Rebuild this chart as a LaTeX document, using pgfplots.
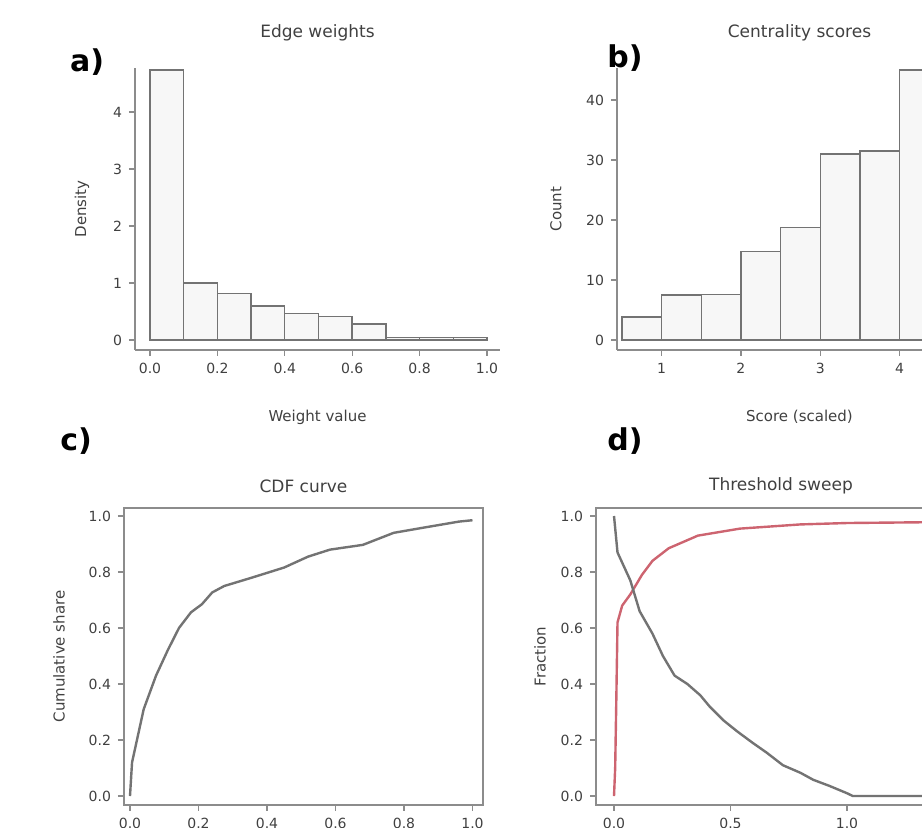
\documentclass[border=0pt]{standalone}
\usepackage{pgfplots}
\pgfplotsset{compat=1.18}
\usepackage{fontspec}
\setmainfont{DejaVu Sans}
\definecolor{linegray}{gray}{0.45}
\definecolor{axgray}{gray}{0.55}
\definecolor{myred}{RGB}{205,100,112}
\begin{document}
\begin{tikzpicture}[x=1pt,y=1pt]
\path[use as bounding box, clip] (0,0) rectangle (461,414);
\pgfplotsset{
 every axis/.append style={
  scale only axis,
  /pgf/number format/assume math mode=true,
  tick label style={font=\fontsize{7}{8}\selectfont, text=black!75},
  label style={font=\fontsize{7.5}{9}\selectfont, text=black!75},
  title style={font=\fontsize{8.5}{10}\selectfont, text=black!75},
  tick align=outside, major tick length=3pt,
  tick style={axgray, line width=0.6pt},
  axis line style={axgray, line width=0.7pt},
 },
}
% ---------- a ----------
\begin{axis}[at={(67.5pt,239pt)}, anchor=south west, width=182.5pt, height=141pt,
 axis lines*=left, xmin=-0.0445, xmax=1.0386, ymin=-0.175, ymax=4.772,
 xtick={0,0.2,0.4,0.6,0.8,1.0}, ytick={0,1,2,3,4},
 xticklabel style={/pgf/number format/fixed, /pgf/number format/fixed zerofill, /pgf/number format/precision=1},
 title={Edge weights}, xlabel={Weight value}, ylabel={Density},
 title style={at={(0.5,1)}, anchor=center, yshift=11.5pt},
 xlabel style={at={(0.5,0)}, anchor=center, yshift=-33.5pt},
 ylabel style={at={(0,0.5)}, anchor=center, yshift=26.5pt},
]
\addplot[ybar interval, fill=gray!6, draw=linegray, line width=0.7pt] coordinates {
(0,4.74) (0.1,1.0) (0.2,0.82) (0.3,0.6) (0.4,0.47) (0.5,0.41) (0.6,0.28) (0.7,0.04) (0.8,0.04) (0.9,0.04) (1.0,0.04)};
\end{axis}
% ---------- b ----------
\begin{axis}[at={(308.5pt,239pt)}, anchor=south west, width=182.5pt, height=141pt,
 axis lines*=left, xmin=0.437, xmax=5.04, ymin=-1.667, ymax=45.33,
 xtick={1,2,3,4,5}, ytick={0,10,20,30,40},
 title={Centrality scores}, xlabel={Score (scaled)}, ylabel={Count},
 title style={at={(0.5,1)}, anchor=center, yshift=11.5pt},
 xlabel style={at={(0.5,0)}, anchor=center, yshift=-33.5pt},
 ylabel style={at={(0,0.5)}, anchor=center, yshift=30.5pt},
]
\addplot[ybar interval, fill=gray!6, draw=linegray, line width=0.7pt] coordinates {
(0.5,3.8) (1.0,7.5) (1.5,7.6) (2.0,14.7) (2.5,18.7) (3.0,31) (3.5,31.5) (4.0,45) (4.5,38) (5.0,38)};
\end{axis}
% ---------- c ----------
\begin{axis}[at={(62pt,11.5pt)}, anchor=south west, width=179.5pt, height=148.5pt,
 xmin=-0.0175, xmax=1.0307, ymin=-0.032, ymax=1.0287, tick pos=left,
 xtick={0,0.2,0.4,0.6,0.8,1.0}, ytick={0,0.2,0.4,0.6,0.8,1.0},
 ticklabel style={/pgf/number format/fixed, /pgf/number format/fixed zerofill, /pgf/number format/precision=1},
 title={CDF curve}, xlabel={Fraction of nodes}, ylabel={Cumulative share},
 title style={at={(0.5,1)}, anchor=center, yshift=5pt},
 xlabel style={at={(0.5,0)}, anchor=center, yshift=-30pt},
 ylabel style={at={(0,0.5)}, anchor=center, yshift=32.5pt},
]
\addplot[linegray, line width=1.2pt, line join=round] coordinates {
(0,0) (0.006,0.12) (0.04,0.31) (0.076,0.43) (0.11,0.52) (0.143,0.60) (0.178,0.656)
(0.21,0.685) (0.24,0.727) (0.275,0.75) (0.356,0.78) (0.45,0.816) (0.52,0.855)
(0.584,0.88) (0.68,0.897) (0.77,0.94) (0.85,0.957) (0.96,0.98) (1.0,0.985)};
\end{axis}
% ---------- d ----------
\begin{axis}[at={(298pt,11.5pt)}, anchor=south west, width=185pt, height=148.5pt,
 xmin=-0.0773, xmax=1.5107, ymin=-0.032, ymax=1.0287, tick pos=left,
 xtick={0,0.5,1.0,1.5}, ytick={0,0.2,0.4,0.6,0.8,1.0},
 ticklabel style={/pgf/number format/fixed, /pgf/number format/fixed zerofill, /pgf/number format/precision=1},
 title={Threshold sweep}, xlabel={Threshold}, ylabel={Fraction},
 title style={at={(0.5,1)}, anchor=center, yshift=5pt},
 xlabel style={at={(0.5,0)}, anchor=center, yshift=-30pt},
 ylabel style={at={(0,0.5)}, anchor=center, yshift=28pt},
]
\addplot[myred, line width=1.2pt, line join=round] coordinates {
(0,0) (0.005,0.1) (0.01,0.35) (0.015,0.62) (0.035,0.68) (0.07,0.72) (0.12,0.79)
(0.165,0.84) (0.235,0.885) (0.36,0.93) (0.54,0.955) (0.8,0.97) (1.0,0.975) (1.6,0.98)};
\addplot[linegray, line width=1.2pt, line join=round] coordinates {
(0,1.0) (0.015,0.87) (0.07,0.77) (0.11,0.66) (0.165,0.58) (0.21,0.50) (0.26,0.43)
(0.315,0.40) (0.37,0.36) (0.41,0.32) (0.47,0.27) (0.53,0.23) (0.595,0.19)
(0.655,0.155) (0.725,0.11) (0.80,0.083) (0.855,0.058) (0.925,0.036) (1.0,0.01)
(1.025,0) (1.6,0)};
\end{axis}
% ---------- panel letters ----------
\node[font=\fontsize{15}{18}\selectfont\bfseries] at (43.5,383) {a)};
\node[font=\fontsize{15}{18}\selectfont\bfseries] at (312.5,385) {b)};
\node[font=\fontsize{15}{18}\selectfont\bfseries] at (38,193.5) {c)};
\node[font=\fontsize{15}{18}\selectfont\bfseries] at (312.5,193.5) {d)};
\end{tikzpicture}
\end{document}
